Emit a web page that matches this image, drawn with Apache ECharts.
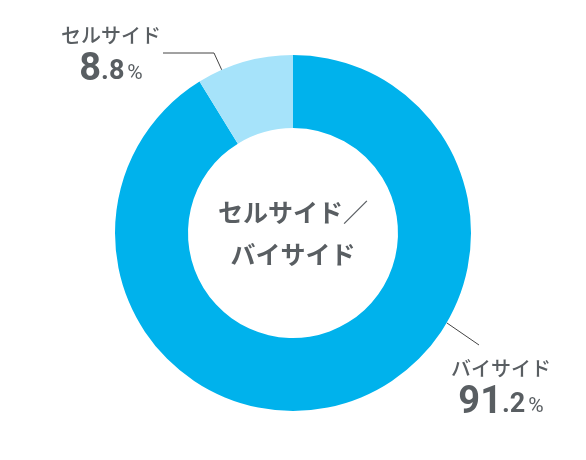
<!DOCTYPE html>
<html>
<head>
<meta charset="UTF-8">
<title></title>
<script src="https://cdn.jsdelivr.net/npm/echarts@6/dist/echarts.min.js"></script>
<style>
html,body{margin:0;padding:0;background:#fff;}
#main{width:586px;height:460px;}
</style>
</head>
<body>
<div id="main"></div>
<script type="text/javascript">
// データ
var names = ['バイサイド', 'セルサイド'];
var values = [91.2, 8.8];
var colors = ['#00b2ec', '#a6e3fa'];
var centerText = 'セルサイド／\nバイサイド';

// 円の位置と大きさ
var cx = 293, cy = 233;
var rIn = 105, rOut = 178;

// ラベルの位置（中央揃え）
var labelPos = [[501, 352], [111, 19]];
// 引き出し線：外周上の角度と折れ点
var lineAngle = [-30.3, 113.6];
var lineBend = [[[479, 345]], [[214, 53], [163, 53]]];

function edgePoint(deg) {
	var a = deg * Math.PI / 180;
	return [cx + rOut * Math.cos(a), cy - rOut * Math.sin(a)];
}

var data = [];
for (var i = 0; i < names.length; i++) {
	data.push({name: names[i], value: values[i], itemStyle: {color: colors[i]}});
}

var chart = echarts.init(document.getElementById('main'));
chart.setOption({
	animation: false,
	graphic: [{
		type: 'text',
		x: cx,
		y: cy,
		silent: true,
		z: 10,
		style: {
			text: centerText,
			align: 'center',
			verticalAlign: 'middle',
			fontFamily: 'Noto Sans CJK JP',
			fontSize: 25,
			fontWeight: 'bold',
			lineHeight: 42,
			fill: '#595e62'
		}
	}],
	series: [{
		type: 'pie',
		center: [cx, cy],
		radius: [rIn, rOut],
		startAngle: 90,
		clockwise: true,
		silent: true,
		data: data,
		label: {
			position: 'outside',
			align: 'center',
			color: '#595e62',
			formatter: function (p) {
				var s = p.value.toFixed(1).split('.');
				return '{n|' + p.name + '}\n{a|' + s[0] + '}{b|.' + s[1] + '}{c|%}';
			},
			rich: {
				n: {fontFamily: 'Noto Sans CJK JP', fontSize: 20, fontWeight: 500, color: '#595e62', lineHeight: 32, align: 'center'},
				a: {fontFamily: 'Roboto', fontSize: 38, fontWeight: 'bold', color: '#595e62', verticalAlign: 'bottom'},
				b: {fontFamily: 'Roboto', fontSize: 27, fontWeight: 'bold', color: '#595e62', verticalAlign: 'bottom', padding: [0, 3, 3, 0]},
				c: {fontFamily: 'Roboto', fontSize: 21, color: '#595e62', verticalAlign: 'bottom', padding: [0, 0, 5, 0]}
			}
		},
		labelLine: {
			show: true,
			lineStyle: {color: '#444', width: 1}
		},
		labelLayout: function (p) {
			var i = p.dataIndex;
			return {
				x: labelPos[i][0],
				y: labelPos[i][1],
				align: 'center',
				verticalAlign: 'top',
				labelLinePoints: [edgePoint(lineAngle[i])].concat(lineBend[i])
			};
		}
	}]
});
</script>
</body>
</html>
